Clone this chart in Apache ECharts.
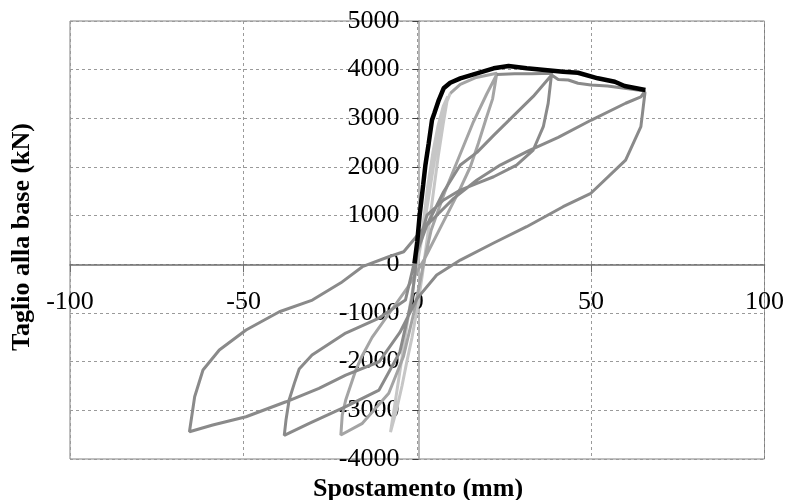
<!DOCTYPE html>
<html><head><meta charset="utf-8">
<script src="https://cdn.jsdelivr.net/npm/echarts@6/dist/echarts.min.js"></script>
<style>html,body{margin:0;padding:0;background:#fff}#c{width:787px;height:500px}</style>
</head><body><div id="c"></div>
<script>
// ---- axis ticks ----
const xTicks = [-100, -50, 0, 50, 100];
const yTicks = [-4000, -3000, -2000, -1000, 0, 1000, 2000, 3000, 4000, 5000];
const xTitle = 'Spostamento (mm)';
const yTitle = 'Taglio alla base (kN)';

// ---- series values: [displacement mm, base shear kN] ----
const cycleSmall = [
  [0,0],[1.5,700],[3,1600],[4.5,2300],[6,2850],[7.5,3250],[8.8,3450],
  [7.5,2900],[6,2200],[4.5,1400],[3,600],[1.5,-200],[0,-900],[-1.5,-1500],[-3,-2000],[-4.4,-2500],[-6,-3000],[-7.7,-3450],
  [-6.5,-2900],[-5,-2200],[-3.5,-1500],[-2,-800],[0,0],[2,800],[4,1700],[6,2600],[8,3250],[9.5,3514]
];
const cycleMid = [
  [9.5,3514],[12.4,3700],[17,3840],[22.9,3925],
  [22.4,3700],[21.7,3400],[20,3034],[17.6,2487],[15.3,2005],[12,1500],[7,800],[2,100],[-3,-500],[-8,-1000],[-13,-1500],[-16,-1900],[-17.7,-2172],[-20.6,-2788],[-21.6,-3100],[-22,-3508],
  [-15.8,-3267],[-8.2,-2650],[-4,-1900],[-1,-1000],[1.5,-100],[4,700],[8,1500],[12,2200],[16,2900],[20,3500],[22.9,3900]
];
const cycleLarge = [
  [22.9,3900],[28,3915],[33,3915],[38.7,3925],
  [37.7,3308],[36.3,2828],[33.4,2349],[28.6,2040],[22,1800],[17.2,1665],[12.4,1527],[7.6,1322],[2.8,1013],[0,300],[-3.4,-734],[-11,-1103],[-20.6,-1412],[-30.3,-1864],[-34,-2150],[-35.4,-2446],[-36.9,-2788],[-37.8,-3200],[-38.3,-3514],
  [-31.1,-3268],[-20.6,-2925],[-11,-2583],[-5,-1800],[-1.5,-700],[0,259],[2.8,808],[7.6,1492],[12.4,2040],[17.2,2300],[22,2650],[27.7,3050],[33.4,3450],[38.7,3891],
  [40.6,3800],[43.5,3787],[46.3,3720],[50,3685],[54.8,3664],[59.7,3617],[65.6,3560],
  [64.4,3440],[60,3310],[50,2960],[40.6,2610],[32,2330],[23.9,2040],[17.2,1733],[10.5,1356],[5.7,1013],[0.9,670],[-3.9,259],[-8.2,156],[-15.8,-49],[-22,-380],[-30.2,-734],[-39.7,-974],[-49.3,-1350],[-57,-1761],[-61.7,-2172],[-64.1,-2721],[-65.6,-3440],
  [-58.9,-3302],[-49.3,-3132],[-37.8,-2824],[-28.3,-2548],[-20.6,-2275],[-11,-2002],[-5,-1400],[0,-700],[5.6,-220],[12.4,88],[22,438],[31.5,773],[42,1184],[50,1460],[60,2140],[64.4,2830],[65.6,3540]
];
const envelope = [
  [-0.8,20],[0,465],[0.7,1013],[1.7,1630],[2.35,2040],[3.3,2487],[4.25,2965],[4.9,3100],[6.2,3376],[7.6,3617],[9.5,3732],[12.4,3822],[17.2,3925],[22,4028],[26.3,4075],[31.5,4028],[42,3958],[46.3,3937],[52,3822],[56.9,3752],[59.7,3664],[65.7,3582]
];

const FONT = 'Liberation Serif';
const G = {left:70, right:20, top:21, bottom:41, w:787, h:500};
const gw = G.w - G.left - G.right, gh = G.h - G.top - G.bottom;
const xMin = xTicks[0], xMax = xTicks[xTicks.length-1];
const yMin = yTicks[0], yMax = yTicks[yTicks.length-1];
// place axes at the zero of the other axis
const xOffset = -gh * (0 - yMin) / (yMax - yMin);
const yOffset = -gw * (0 - xMin) / (xMax - xMin);

const chart = echarts.init(document.getElementById('c'), null, {renderer:'canvas'});
const gridLine = {show:true, lineStyle:{color:'#9a9a9a', type:[3,3], width:1}};
chart.setOption({
  animation:false,
  backgroundColor:'#fff',
  grid:{left:G.left, right:G.right, top:G.top, bottom:G.bottom, show:true, borderColor:'#808080', borderWidth:1},
  xAxis:{type:'value', min:xMin, max:xMax, interval:50, position:'bottom', offset:xOffset,
    axisLine:{onZero:false, lineStyle:{color:'#6e6e6e', width:1.5}},
    axisTick:{show:true, length:8, lineStyle:{color:'#6e6e6e'}},
    axisLabel:{fontFamily:FONT, fontSize:26, color:'#000', margin:25, formatter:v=>String(v)},
    splitLine:gridLine},
  yAxis:{type:'value', min:yMin, max:yMax, interval:1000, position:'left', offset:yOffset,
    axisLine:{onZero:false, lineStyle:{color:'#a0a0a0', width:1.5}},
    axisTick:{show:true, length:6, lineStyle:{color:'#404040'}},
    axisLabel:{fontFamily:FONT, fontSize:26, color:'#000', margin:19, formatter:v=>String(v)},
    splitLine:gridLine},
  graphic:[
    {type:'text', x:418, y:476, style:{text:xTitle, font:'bold 26px "Liberation Serif"', fill:'#000', align:'center', verticalAlign:'top'}},
    {type:'text', x:9, y:237, rotation:Math.PI/2, style:{text:yTitle, font:'bold 26px "Liberation Serif"', fill:'#000', align:'center', verticalAlign:'top'}}
  ],
  series:[
    {type:'line', data:cycleSmall, showSymbol:false, lineStyle:{color:'#c6c6c6', width:3}, z:2},
    {type:'line', data:cycleMid, showSymbol:false, lineStyle:{color:'#a4a4a4', width:3}, z:3},
    {type:'line', data:cycleLarge, showSymbol:false, lineStyle:{color:'#8a8a8a', width:3}, z:4},
    {type:'line', data:envelope, showSymbol:false, lineStyle:{color:'#000', width:4.5}, z:5}
  ]
});
</script></body></html>
